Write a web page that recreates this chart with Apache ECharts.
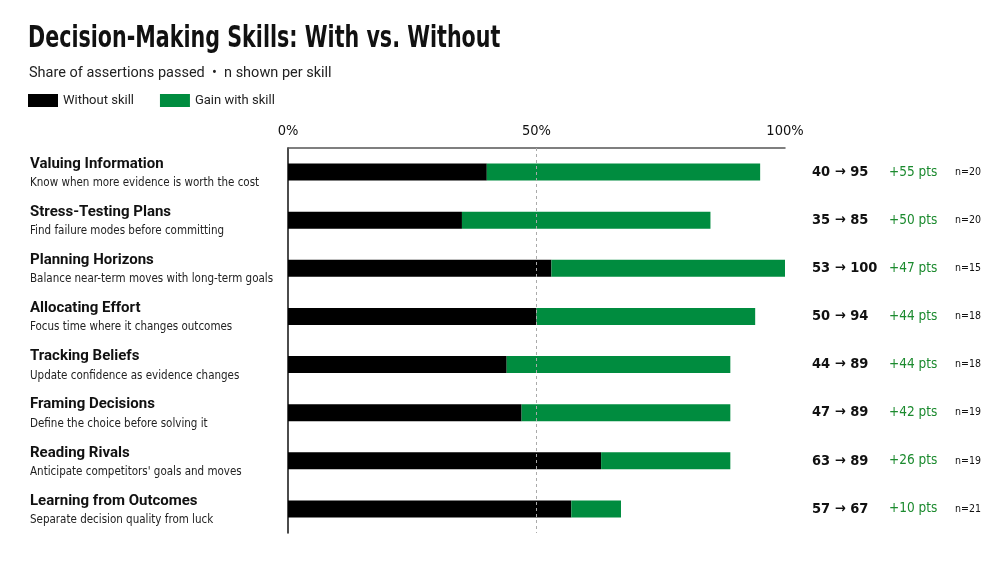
<!DOCTYPE html>
<html><head><meta charset="utf-8">
<script src="https://cdn.jsdelivr.net/npm/echarts@6/dist/echarts.min.js"></script>
<style>html,body{margin:0;padding:0;background:#fff}#c{width:1000px;height:563px}</style>
</head><body><div id="c"></div>
<script>
var skills = ['Valuing Information','Stress-Testing Plans','Planning Horizons','Allocating Effort','Tracking Beliefs','Framing Decisions','Reading Rivals','Learning from Outcomes'];
var descriptions = ['Know when more evidence is worth the cost','Find failure modes before committing','Balance near-term moves with long-term goals','Focus time where it changes outcomes','Update confidence as evidence changes','Define the choice before solving it',"Anticipate competitors' goals and moves",'Separate decision quality from luck'];
var withoutSkill = [40,35,53,50,44,47,63,57];
var withSkill = [95,85,100,94,89,89,89,67];
var gainLabels = [55,50,47,44,44,42,26,10];
var sampleSizes = [20,20,15,18,18,19,19,21];
var axisTicks = [0,50,100];

var gainBars = withSkill.map(function(v,i){return v - withoutSkill[i];});
var COND = '"Liberation Sans Narrow","DejaVu Sans Condensed","Roboto Condensed",Roboto,sans-serif';
var chart = echarts.init(document.getElementById('c'));
chart.setOption({
  backgroundColor:'#fff',
  animation:false,
  title:{
    text:'',
    subtext:'Share of assertions passed  •  n shown per skill',
    left:24, top:61, itemGap:0,
    subtextStyle:{fontFamily:'Roboto,sans-serif',fontSize:14.5,color:'#222'}
  },
  graphic:[{
    type:'text', left:28, top:24, scaleX:0.765, originX:0,
    style:{text:'Decision-Making Skills: With vs. Without',fontFamily:COND,fontWeight:'bold',fontSize:30,fill:'#111'}
  }],
  legend:{
    left:23, top:89, itemWidth:30, itemHeight:13, itemGap:26,
    icon:'rect',
    textStyle:{fontFamily:'Roboto,sans-serif',fontSize:13,color:'#222'},
    data:['Without skill','Gain with skill']
  },
  grid:{left:288,right:215,top:148,bottom:30},
  xAxis:{
    type:'value', position:'top', min:0, max:100, interval:50,
    axisLine:{show:true,lineStyle:{color:'#555',width:1.5}},
    axisTick:{show:false},
    splitLine:{show:false},
    axisLabel:{margin:9,fontFamily:COND,fontSize:14.5,fontWeight:500,color:'#111',
      formatter:function(v){return axisTicks.indexOf(v)>=0 ? v+'%' : '';}}
  },
  yAxis:[{
    type:'category', inverse:true, data:skills,
    axisLine:{show:true,lineStyle:{color:'#111',width:1.5}},
    axisTick:{show:false},
    axisLabel:{align:'left',margin:258,
      formatter:function(v,i){return '{n|'+v+'}\n{d|'+descriptions[i]+'}';},
      rich:{
        n:{fontFamily:'Roboto,sans-serif',fontWeight:'bold',fontSize:15,color:'#111',lineHeight:22},
        d:{fontFamily:COND,fontSize:11.5,color:'#222',lineHeight:16}
      }}
  },{
    type:'category', inverse:true, data:skills, position:'right',
    axisLine:{show:false}, axisTick:{show:false},
    axisLabel:{align:'left',margin:27,
      formatter:function(v,i){return '{a|'+withoutSkill[i]+' → '+withSkill[i]+'}{b|+'+gainLabels[i]+' pts}{c|n='+sampleSizes[i]+'}';},
      rich:{
        a:{fontFamily:COND,fontWeight:'bold',fontSize:14.5,color:'#111',width:77},
        b:{fontFamily:COND,fontSize:13.5,color:'#1b8a2e',width:66},
        c:{fontFamily:COND,fontSize:10.5,color:'#111'}
      }}
  }],
  series:[{
    name:'Without skill', type:'bar', stack:'s', barWidth:17,
    itemStyle:{color:'#000'}, data:withoutSkill,
    markLine:{symbol:'none',silent:true,label:{show:false},
      lineStyle:{type:[3,3],color:'#aaa',width:1},data:[{xAxis:50}]}
  },{
    name:'Gain with skill', type:'bar', stack:'s', barWidth:17,
    itemStyle:{color:'#008c3f'}, data:gainBars
  }]
});
</script></body></html>
